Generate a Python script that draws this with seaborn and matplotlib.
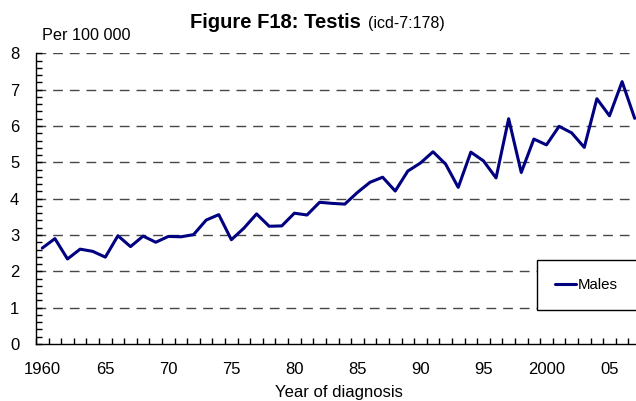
import numpy as np
import pandas as pd
import seaborn as sns
import matplotlib.pyplot as plt
from matplotlib.ticker import MultipleLocator, FixedLocator

years = list(range(1960, 2008))
males = [2.64, 2.90, 2.34, 2.61, 2.55, 2.39, 2.98, 2.68, 2.97, 2.80,
         2.96, 2.95, 3.01, 3.41, 3.56, 2.87, 3.19, 3.58, 3.24, 3.25,
         3.60, 3.55, 3.90, 3.87, 3.85, 4.17, 4.45, 4.59, 4.21, 4.76,
         4.98, 5.29, 4.95, 4.31, 5.28, 5.04, 4.57, 6.20, 4.72, 5.64,
         5.48, 5.99, 5.81, 5.41, 6.75, 6.28, 7.22, 6.21]
label_years = [1960, 1965, 1970, 1975, 1980, 1985, 1990, 1995, 2000, 2005]
label_text = ["1960", "65", "70", "75", "80", "85", "90", "95", "2000", "05"]

df = pd.DataFrame({"year": years, "rate": males, "sex": "Males"})

sns.set_style("ticks")
plt.rcParams['font.family'] = ['Liberation Sans', 'DejaVu Sans']
plt.rcParams.update({"text.color": "black", "axes.labelcolor": "black",
                     "xtick.color": "black", "ytick.color": "black"})

fig = plt.figure(figsize=(6.36, 4.01), dpi=100)
W, H = 636, 401
left, right, top, bottom = 36, 641, 53.3, 344
ax = fig.add_axes([left / W, 1 - bottom / H, (right - left) / W, (bottom - top) / H])

sns.lineplot(data=df, x="year", y="rate", hue="sex", palette=["#000080"],
             linewidth=2.2, ax=ax)

ax.set_xlim(1959.5, 2007.5)
ax.set_ylim(0, 8)
ax.set_xlabel("Year of diagnosis", fontsize=12, labelpad=6)
ax.set_ylabel("")

ax.xaxis.set_major_locator(FixedLocator(label_years))
ax.set_xticklabels(label_text)
ax.xaxis.set_minor_locator(MultipleLocator(1, offset=0.5))
ax.tick_params(axis="x", which="major", length=0, pad=13, labelsize=12)
ax.tick_params(axis="x", which="minor", direction="in", length=4, width=1, color="black")

ax.yaxis.set_major_locator(MultipleLocator(1))
ax.yaxis.set_minor_locator(MultipleLocator(0.2))
ax.tick_params(axis="y", which="major", direction="in", length=4, width=1, pad=12,
               labelsize=12, color="black")
ax.tick_params(axis="y", which="minor", direction="in", length=4, width=1, color="black")

for yv in range(1, 9):
    ax.axhline(yv, color="#474747", linewidth=1, linestyle=(0, (7, 5)), zorder=0)

for s in ["top", "right"]:
    ax.spines[s].set_visible(False)
for s in ["left", "bottom"]:
    ax.spines[s].set_color("black")
    ax.spines[s].set_linewidth(1)

leg = ax.legend(loc="lower left", bbox_to_anchor=(0.828, 0.117, 0.3, 0.172),
                mode="expand", fontsize=10.8, frameon=True, fancybox=False,
                framealpha=1, edgecolor="black", handlelength=1.4,
                handletextpad=0.1, borderpad=1.2, borderaxespad=0)
leg.get_frame().set_linewidth(1)

fig.text(190 / W, 1 - 28 / H, "Figure F18: Testis", fontsize=14.5, fontweight="bold",
         ha="left", va="baseline")
fig.text(368 / W, 1 - 28 / H, "(icd-7:178)", fontsize=11.5, ha="left", va="baseline")
fig.text(42 / W, 1 - 40 / H, "Per 100 000", fontsize=11.7, ha="left", va="baseline")

fig.savefig("out.png", dpi=100)
